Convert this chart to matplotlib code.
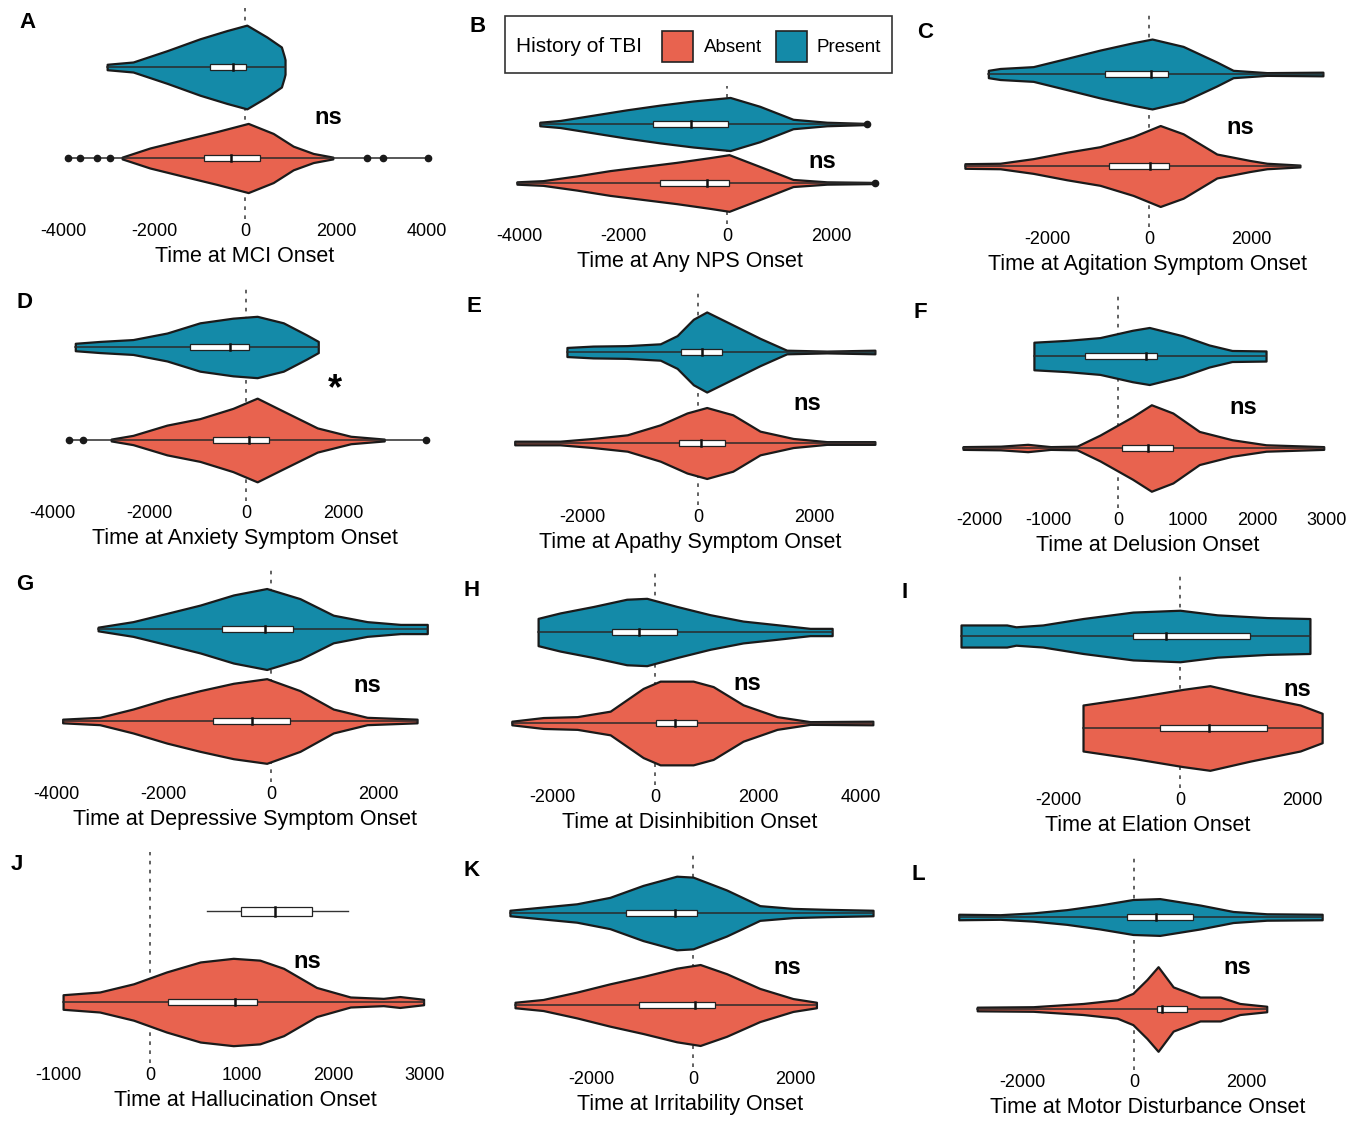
import matplotlib
matplotlib.use("Agg")
import matplotlib.pyplot as plt
from matplotlib.patches import Rectangle
import numpy as np

plt.rcParams["font.family"] = ["Liberation Sans", "DejaVu Sans"]
plt.rcParams["axes.unicode_minus"] = False

ABSENT = "#E8634F"
PRESENT = "#148AA8"
W, H = 1366, 1121

# ── Violin outlines: (time, half-width as share of row gap) ──
mci_present = [(-3030, 0.03), (-2460, 0.055), (-1710, 0.18), (-990, 0.31), (-400, 0.40),
               (40, 0.46), (480, 0.33), (800, 0.22), (860, 0.12), (880, 0.08)]
mci_present_box = (-770, -260, 20)
mci_absent = [(-2700, 0.01), (-2090, 0.11), (-1360, 0.20), (-620, 0.29), (70, 0.38),
              (620, 0.27), (1060, 0.13), (1500, 0.05), (1930, 0.01)]
mci_absent_box = (-900, -310, 330)
mci_absent_out = [-3890, -3630, -3250, -2960, 2680, 3040, 4020]

nps_present = [(-3600, 0.03), (-3210, 0.06), (-2570, 0.15), (-1930, 0.24), (-1290, 0.32),
               (-650, 0.39), (60, 0.45), (630, 0.30), (1270, 0.08), (1920, 0.03), (2690, 0.01)]
nps_present_box = (-1420, -690, 20)
nps_present_out = [2690]
nps_absent = [(-4040, 0.02), (-3540, 0.04), (-2890, 0.12), (-2250, 0.21), (-1610, 0.28),
              (-970, 0.35), (-330, 0.43), (40, 0.48), (630, 0.28), (1270, 0.06),
              (1920, 0.02), (2850, 0.01)]
nps_absent_box = (-1290, -390, 40)
nps_absent_out = [2850]

agit_present = [(-3150, 0.04), (-2920, 0.06), (-2270, 0.08), (-1610, 0.17), (-960, 0.26),
                (-310, 0.34), (60, 0.38), (670, 0.30), (1330, 0.13), (1650, 0.04),
                (2310, 0.015), (3410, 0.02)]
agit_present_box = (-860, 40, 370)
agit_absent = [(-3610, 0.025), (-2920, 0.03), (-2270, 0.08), (-1610, 0.15), (-960, 0.21),
               (-310, 0.32), (220, 0.44), (670, 0.35), (1330, 0.13), (1980, 0.06),
               (2310, 0.03), (2960, 0.01)]
agit_absent_box = (-780, 20, 390)

anx_present = [(-3520, 0.04), (-3010, 0.06), (-2330, 0.08), (-1630, 0.15), (-950, 0.26),
               (-270, 0.31), (230, 0.33), (770, 0.26), (1250, 0.13), (1490, 0.06)]
anx_present_box = (-1150, -330, 60)
anx_absent = [(-2780, 0.01), (-2330, 0.05), (-1630, 0.16), (-950, 0.23), (-270, 0.34),
              (230, 0.45), (770, 0.31), (1470, 0.13), (2160, 0.04), (2850, 0.01)]
anx_absent_box = (-680, 60, 470)
anx_absent_out = [-3650, -3360, 3710]

apa_present = [(-2260, 0.05), (-1810, 0.065), (-1220, 0.07), (-650, 0.09), (-360, 0.18),
               (-80, 0.36), (150, 0.44), (500, 0.33), (1070, 0.15), (1530, 0.02),
               (2220, 0.01), (3050, 0.02)]
apa_present_box = (-300, 70, 410)
apa_absent = [(-3160, 0.02), (-2380, 0.02), (-1810, 0.05), (-1220, 0.09), (-650, 0.20),
              (-190, 0.33), (150, 0.39), (600, 0.31), (1070, 0.13), (1640, 0.05),
              (2220, 0.015), (3050, 0.015)]
apa_absent_box = (-330, 50, 470)

del_present = [(-1210, 0.15), (-730, 0.17), (-260, 0.20), (210, 0.28), (450, 0.31),
               (930, 0.22), (1310, 0.12), (1640, 0.06), (2130, 0.055)]
del_present_box = (-470, 400, 560)
del_absent = [(-2230, 0.015), (-1690, 0.02), (-1300, 0.04), (-970, 0.015), (-590, 0.02),
              (-260, 0.14), (210, 0.34), (480, 0.47), (790, 0.38), (1170, 0.18),
              (1640, 0.09), (2130, 0.035), (2960, 0.015)]
del_absent_box = (60, 430, 790)

dep_present = [(-3220, 0.02), (-2570, 0.08), (-1940, 0.17), (-1320, 0.26), (-700, 0.37),
               (-80, 0.44), (540, 0.33), (1160, 0.15), (1790, 0.08), (2410, 0.05), (2910, 0.05)]
dep_present_box = (-920, -120, 410)
dep_absent = [(-3880, 0.02), (-3190, 0.04), (-2570, 0.13), (-1940, 0.24), (-1320, 0.33),
              (-700, 0.41), (-80, 0.46), (540, 0.33), (1160, 0.13), (1790, 0.04), (2720, 0.02)]
dep_absent_box = (-1080, -350, 350)

dis_present = [(-2270, 0.15), (-1840, 0.21), (-1200, 0.28), (-550, 0.36), (-160, 0.37),
               (430, 0.28), (1070, 0.19), (1710, 0.12), (2370, 0.08), (3010, 0.04), (3440, 0.04)]
dis_present_box = (-840, -310, 430)
dis_absent = [(-2780, 0.02), (-2170, 0.06), (-1510, 0.07), (-870, 0.13), (-230, 0.38),
              (100, 0.46), (740, 0.46), (1130, 0.40), (1710, 0.20), (2370, 0.07),
              (3010, 0.015), (4230, 0.02)]
dis_absent_box = (20, 390, 820)

ela_present = [(-3590, 0.12), (-2840, 0.12), (-2690, 0.10), (-2250, 0.12), (-1590, 0.19),
               (-770, 0.26), (0, 0.28), (610, 0.23), (1430, 0.20), (2130, 0.19)]
ela_present_box = (-770, -230, 1150)
ela_absent = [(-1590, 0.25), (-770, 0.33), (50, 0.42), (490, 0.46), (1150, 0.36),
              (1970, 0.25), (2330, 0.16)]
ela_absent_box = (-330, 480, 1430)

hal_present_box = (990, 1370, 1770)
hal_present_whisk = (620, 2160)
hal_absent = [(-950, 0.08), (-550, 0.11), (-180, 0.20), (180, 0.33), (550, 0.44),
              (910, 0.48), (1200, 0.46), (1460, 0.37), (1820, 0.16), (2190, 0.055),
              (2550, 0.04), (2730, 0.06), (2990, 0.03)]
hal_absent_box = (200, 930, 1170)

irr_present = [(-3590, 0.03), (-2940, 0.065), (-2280, 0.10), (-1630, 0.17), (-980, 0.30),
               (-320, 0.40), (0, 0.39), (660, 0.25), (1310, 0.08), (1960, 0.05),
               (2620, 0.04), (3530, 0.03)]
irr_present_box = (-1310, -350, 80)
irr_absent = [(-3490, 0.03), (-2940, 0.06), (-2280, 0.14), (-1630, 0.23), (-980, 0.31),
              (-320, 0.40), (140, 0.44), (660, 0.34), (1310, 0.18), (1960, 0.07), (2420, 0.03)]
irr_absent_box = (-1050, 40, 430)

mot_present = [(-3130, 0.03), (-2390, 0.025), (-1800, 0.045), (-1200, 0.08), (-610, 0.13),
               (-20, 0.19), (460, 0.20), (1180, 0.13), (1770, 0.06), (2370, 0.035), (3360, 0.03)]
mot_present_box = (-130, 390, 1050)
mot_absent = [(-2800, 0.02), (-1800, 0.025), (-910, 0.06), (-300, 0.10), (-20, 0.17),
              (230, 0.32), (430, 0.46), (700, 0.24), (1180, 0.13), (1540, 0.13),
              (1890, 0.06), (2370, 0.03)]
mot_absent_box = (410, 500, 950)

panel_letters = list("ABCDEFGHIJKL")
x_titles = ["Time at MCI Onset", "Time at Any NPS Onset", "Time at Agitation Symptom Onset",
            "Time at Anxiety Symptom Onset", "Time at Apathy Symptom Onset", "Time at Delusion Onset",
            "Time at Depressive Symptom Onset", "Time at Disinhibition Onset", "Time at Elation Onset",
            "Time at Hallucination Onset", "Time at Irritability Onset", "Time at Motor Disturbance Onset"]
significance = ["ns", "ns", "ns", "*", "ns", "ns", "ns", "ns", "ns", "ns", "ns", "ns"]
x_ticks = [[-4000, -2000, 0, 2000, 4000], [-4000, -2000, 0, 2000], [-2000, 0, 2000],
           [-4000, -2000, 0, 2000], [-2000, 0, 2000], [-2000, -1000, 0, 1000, 2000, 3000],
           [-4000, -2000, 0, 2000], [-2000, 0, 2000, 4000], [-2000, 0, 2000],
           [-1000, 0, 1000, 2000, 3000], [-2000, 0, 2000], [-2000, 0, 2000]]

present_series = [mci_present, nps_present, agit_present, anx_present, apa_present, del_present,
                  dep_present, dis_present, ela_present, None, irr_present, mot_present]
present_boxes = [mci_present_box, nps_present_box, agit_present_box, anx_present_box,
                 apa_present_box, del_present_box, dep_present_box, dis_present_box,
                 ela_present_box, hal_present_box, irr_present_box, mot_present_box]
absent_series = [mci_absent, nps_absent, agit_absent, anx_absent, apa_absent, del_absent,
                 dep_absent, dis_absent, ela_absent, hal_absent, irr_absent, mot_absent]
absent_boxes = [mci_absent_box, nps_absent_box, agit_absent_box, anx_absent_box,
                apa_absent_box, del_absent_box, dep_absent_box, dis_absent_box,
                ela_absent_box, hal_absent_box, irr_absent_box, mot_absent_box]
present_out = {1: nps_present_out}
absent_out = {0: mci_absent_out, 1: nps_absent_out, 3: anx_absent_out}

# ── Layout (pixels): zero position, px per 1000, column extent, row centres, tick row,
#    significance mark position, panel letter position ──
LAYOUT = [
    dict(x0=245, k=45.5, cols=(40, 450), top=67, bot=158, tick=232, sig=(328, 117), let=(28, 22)),
    dict(x0=727, k=52.0, cols=(490, 890), top=124, bot=183, tick=237, sig=(822, 162), let=(478, 27)),
    dict(x0=1149, k=51.0, cols=(940, 1355), top=74, bot=166, tick=240, sig=(1240, 127), let=(925, 32)),
    dict(x0=246, k=48.5, cols=(40, 450), top=347, bot=440, tick=514, sig=(335, 390), let=(25, 302)),
    dict(x0=698, k=58.0, cols=(490, 890), top=352, bot=443, tick=518, sig=(807, 403), let=(474, 307)),
    dict(x0=1118, k=69.5, cols=(940, 1355), top=356, bot=448, tick=521, sig=(1243, 408), let=(920, 312)),
    dict(x0=271, k=53.7, cols=(40, 450), top=629, bot=721, tick=795, sig=(367, 685), let=(25, 585)),
    dict(x0=655, k=51.5, cols=(490, 890), top=632, bot=723, tick=798, sig=(747, 683), let=(472, 590)),
    dict(x0=1180, k=61.0, cols=(940, 1355), top=636, bot=728, tick=801, sig=(1297, 690), let=(905, 592)),
    dict(x0=150, k=91.5, cols=(40, 450), top=911, bot=1002, tick=1076, sig=(307, 962), let=(17, 865)),
    dict(x0=693, k=51.0, cols=(490, 890), top=913, bot=1005, tick=1080, sig=(787, 967), let=(472, 870)),
    dict(x0=1134, k=56.0, cols=(940, 1355), top=917, bot=1009, tick=1083, sig=(1237, 968), let=(918, 875)),
]


def draw_box(ax, box, yc, bh, whisk=None):
    q1, med, q3 = box
    if whisk is not None:
        ax.plot(whisk, [yc, yc], color="#333333", lw=1.0, zorder=3)
    ax.add_patch(Rectangle((q1, yc - bh), q3 - q1, 2 * bh, facecolor="white",
                           edgecolor="#222222", lw=0.9, zorder=4))
    ax.plot([med, med], [yc - bh, yc + bh], color="#111111", lw=1.8, zorder=5)


def draw_violin(ax, prof, box, yc, color, bh, outliers=()):
    xs = np.array([p[0] for p in prof], dtype=float)
    ws = np.array([p[1] for p in prof], dtype=float)
    ax.fill_between(xs, yc - ws, yc + ws, facecolor=color, edgecolor="#1a1a1a",
                    lw=1.6, zorder=2)
    lo = min([xs[0]] + list(outliers))
    hi = max([xs[-1]] + list(outliers))
    ax.plot([lo, hi], [yc, yc], color="#2a2a2a", lw=1.1, zorder=3)
    if outliers:
        ax.plot(outliers, [yc] * len(outliers), "o", ms=4.5, color="#1a1a1a", zorder=3)
    draw_box(ax, box, yc, bh)


fig = plt.figure(figsize=(W / 100, H / 100), dpi=100)
fig.patch.set_facecolor("white")

for i, lay in enumerate(LAYOUT):
    d = lay["bot"] - lay["top"]
    left, right = lay["cols"]
    top_px = lay["top"] - 0.65 * d
    bot_px = lay["tick"] - 13
    ax = fig.add_axes([left / W, 1 - bot_px / H, (right - left) / W, (bot_px - top_px) / H])
    ax.set_xlim((left - lay["x0"]) / lay["k"] * 1000, (right - lay["x0"]) / lay["k"] * 1000)
    ax.set_ylim(2 - (bot_px - lay["top"]) / d, 2 + (lay["top"] - top_px) / d)
    bh = 3.4 / d

    ax.axvline(0, color="#555555", lw=1.3, ls=(0, (2, 3)), zorder=1)

    if present_series[i] is None:
        draw_box(ax, present_boxes[i], 2, 4.5 / d, whisk=hal_present_whisk)
    else:
        draw_violin(ax, present_series[i], present_boxes[i], 2, PRESENT, bh,
                    present_out.get(i, ()))
    draw_violin(ax, absent_series[i], absent_boxes[i], 1, ABSENT, bh, absent_out.get(i, ()))

    ax.set_xticks(x_ticks[i])
    ax.set_yticks([])
    ax.tick_params(axis="x", length=0, pad=3, labelsize=13)
    for s in ax.spines.values():
        s.set_visible(False)
    ax.set_facecolor("none")
    ax.set_xlabel(x_titles[i], fontsize=15.5, labelpad=4)

    sx, sy = lay["sig"]
    fig.text(sx / W, 1 - sy / H, significance[i], ha="center", va="center",
             fontsize=26 if significance[i] == "*" else 17, fontweight="bold")
    lx, ly = lay["let"]
    fig.text(lx / W, 1 - ly / H, panel_letters[i], ha="center", va="center",
             fontsize=16, fontweight="bold")

# legend box (top middle)
fig.patches.append(Rectangle((505 / W, 1 - 73 / H), 387 / W, 57 / H, transform=fig.transFigure,
                             facecolor="white", edgecolor="#333333", lw=1.2))
fig.text(516 / W, 1 - 46 / H, "History of TBI", ha="left", va="center", fontsize=15)
fig.patches.append(Rectangle((662 / W, 1 - 62 / H), 31 / W, 31 / H, transform=fig.transFigure,
                             facecolor=ABSENT, edgecolor="#222222", lw=1.2))
fig.text(704 / W, 1 - 47 / H, "Absent", ha="left", va="center", fontsize=13.5)
fig.patches.append(Rectangle((776 / W, 1 - 62 / H), 31 / W, 31 / H, transform=fig.transFigure,
                             facecolor=PRESENT, edgecolor="#222222", lw=1.2))
fig.text(816 / W, 1 - 47 / H, "Present", ha="left", va="center", fontsize=13.5)

fig.savefig("out.png", dpi=100)
